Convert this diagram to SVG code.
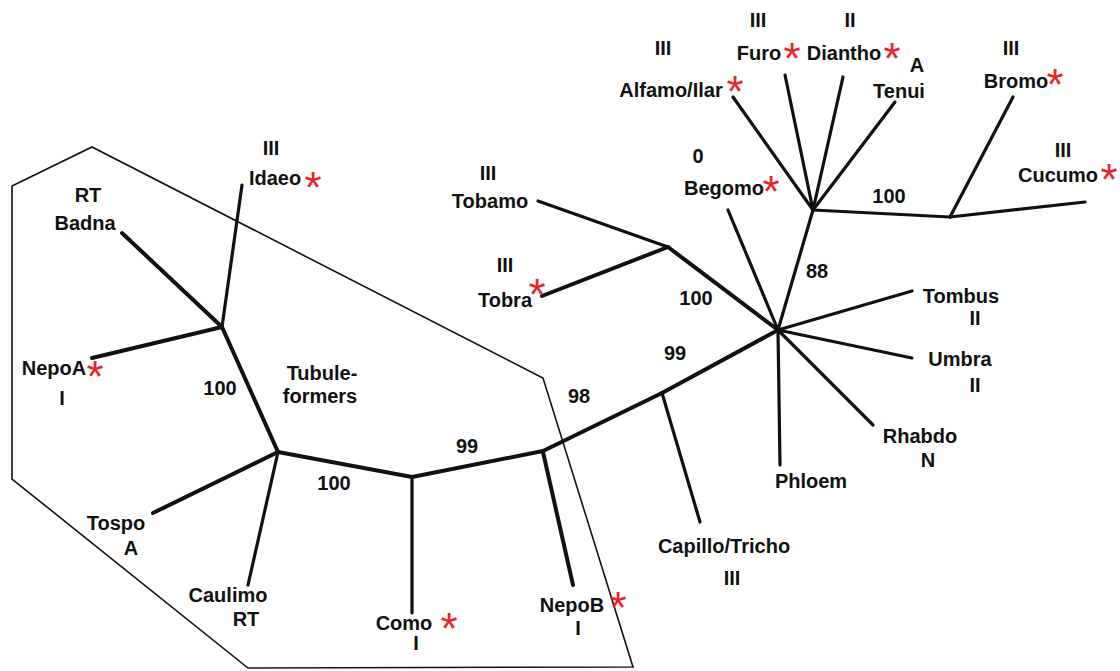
<svg xmlns="http://www.w3.org/2000/svg" width="1120" height="671" viewBox="0 0 1120 671">
<style>
text{font-family:"Liberation Sans",Arial,sans-serif;font-weight:bold;font-size:20px;fill:#111;text-anchor:middle}
text.s{fill:#e8262a;font-size:44px;font-weight:normal}
.e{stroke:#111;stroke-width:4;fill:none;stroke-linecap:round}
.t{stroke:#111;stroke-width:3.2;fill:none;stroke-linecap:round}
.hull{stroke:#111;stroke-width:1.6;fill:none;stroke-linejoin:miter}
</style>
<rect width="1120" height="671" fill="#fff"/>
<polygon id="tubule-formers-hull" class="hull" points="12,186 92,147 543,378 633,667 248,668 12,479"/>
<g id="connectors">
<line class="e" x1="222" y1="327" x2="122" y2="233"/>
<line class="t" x1="222" y1="327" x2="242" y2="185"/>
<line class="e" x1="222" y1="327" x2="92" y2="358"/>
<line class="e" x1="222" y1="327" x2="278" y2="452"/>
<line class="e" x1="278" y1="452" x2="153" y2="513"/>
<line class="t" x1="278" y1="452" x2="248" y2="585"/>
<line class="e" x1="278" y1="452" x2="412" y2="477"/>
<line class="t" x1="412" y1="477" x2="412" y2="613"/>
<line class="e" x1="412" y1="477" x2="543" y2="451"/>
<line class="e" x1="543" y1="452" x2="573" y2="585"/>
<line class="e" x1="543" y1="451" x2="662" y2="393"/>
<line class="t" x1="662" y1="393" x2="700" y2="522"/>
<line class="e" x1="662" y1="393" x2="778" y2="330"/>
<line class="e" x1="778" y1="330" x2="668" y2="247"/>
<line class="t" x1="668" y1="247" x2="538" y2="201"/>
<line class="e" x1="668" y1="247" x2="542" y2="296"/>
<line class="t" x1="778" y1="330" x2="728" y2="210"/>
<line class="t" x1="778" y1="330" x2="813" y2="210"/>
<line class="t" x1="813" y1="210" x2="733" y2="97"/>
<line class="t" x1="813" y1="210" x2="785" y2="75"/>
<line class="t" x1="813" y1="210" x2="843" y2="77"/>
<line class="t" x1="813" y1="210" x2="895" y2="102"/>
<line class="t" x1="813" y1="210" x2="950" y2="217"/>
<line class="t" x1="950" y1="217" x2="1013" y2="97"/>
<line class="t" x1="950" y1="217" x2="1085" y2="202"/>
<line class="t" x1="778" y1="330" x2="912" y2="291"/>
<line class="t" x1="778" y1="330" x2="912" y2="358"/>
<line class="t" x1="778" y1="330" x2="873" y2="425"/>
<line class="t" x1="778" y1="330" x2="780" y2="465"/>
</g>
<g id="support-values">
<text x="220" y="395">100</text>
<text x="334" y="490">100</text>
<text x="467" y="453">99</text>
<text x="579" y="403">98</text>
<text x="675" y="360">99</text>
<text x="696" y="305">100</text>
<text x="817" y="278">88</text>
<text x="889" y="203">100</text>
</g>
<g id="tubule-label"><text x="322" y="380">Tubule-</text><text x="320" y="403">formers</text></g>
<g id="idaeo"><text x="271" y="155">III</text><text x="275" y="185">Idaeo</text><text class="s" x="313" y="203">*</text></g>
<g id="badna"><text x="88" y="202">RT</text><text x="85" y="230">Badna</text></g>
<g id="nepoA"><text x="54" y="375">NepoA</text><text class="s" x="95" y="392">*</text><text x="62" y="405">I</text></g>
<g id="tospo"><text x="116" y="530">Tospo</text><text x="131" y="555">A</text></g>
<g id="caulimo"><text x="228" y="602">Caulimo</text><text x="246" y="626">RT</text></g>
<g id="como"><text x="404" y="630">Como</text><text class="s" x="449" y="644">*</text><text x="416" y="650">I</text></g>
<g id="nepoB"><text x="572" y="612">NepoB</text><text class="s" x="618" y="623">*</text><text x="578" y="635">I</text></g>
<g id="capillo"><text x="724" y="553">Capillo/Tricho</text><text x="732" y="585">III</text></g>
<g id="tobamo"><text x="488" y="180">III</text><text x="490" y="208">Tobamo</text></g>
<g id="tobra"><text x="505" y="272">III</text><text x="505" y="307">Tobra</text><text class="s" x="537" y="310">*</text></g>
<g id="begomo"><text x="698" y="163">0</text><text x="724" y="195">Begomo</text><text class="s" x="771" y="207">*</text></g>
<g id="alfamo"><text x="663" y="55">III</text><text x="671" y="97">Alfamo/Ilar</text><text class="s" x="735" y="107">*</text></g>
<g id="furo"><text x="758" y="27">III</text><text x="759" y="60">Furo</text><text class="s" x="792" y="74">*</text></g>
<g id="diantho"><text x="850" y="27">II</text><text x="844" y="60">Diantho</text><text class="s" x="892" y="74">*</text></g>
<g id="tenui"><text x="917" y="72">A</text><text x="899" y="98">Tenui</text></g>
<g id="bromo"><text x="1016" y="88">Bromo</text><text x="1011" y="55">III</text><text class="s" x="1055" y="100">*</text></g>
<g id="cucumo"><text x="1063" y="157">III</text><text x="1058" y="182">Cucumo</text><text class="s" x="1109" y="195">*</text></g>
<g id="tombus"><text x="961" y="303">Tombus</text><text x="975" y="325">II</text></g>
<g id="umbra"><text x="960" y="366">Umbra</text><text x="975" y="392">II</text></g>
<g id="rhabdo"><text x="920" y="443">Rhabdo</text><text x="928" y="467">N</text></g>
<g id="phloem"><text x="811" y="488">Phloem</text></g>
</svg>
